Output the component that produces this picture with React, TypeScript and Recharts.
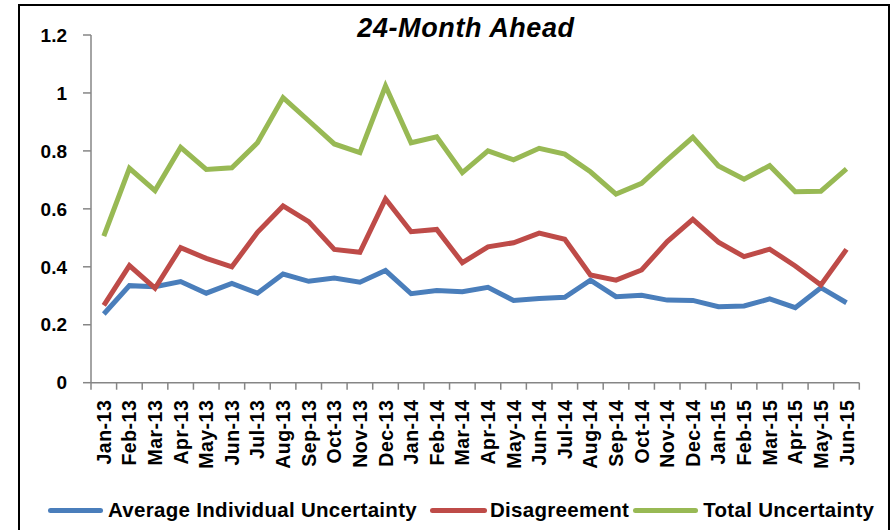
import React from 'react';
import { LineChart, Line, XAxis, YAxis, Legend } from 'recharts';

const months = [
  'Jan-13', 'Feb-13', 'Mar-13', 'Apr-13', 'May-13', 'Jun-13', 'Jul-13', 'Aug-13', 'Sep-13', 'Oct-13', 'Nov-13', 'Dec-13',
  'Jan-14', 'Feb-14', 'Mar-14', 'Apr-14', 'May-14', 'Jun-14', 'Jul-14', 'Aug-14', 'Sep-14', 'Oct-14', 'Nov-14', 'Dec-14',
  'Jan-15', 'Feb-15', 'Mar-15', 'Apr-15', 'May-15', 'Jun-15',
];

const avgIndividual = [
  0.237, 0.335, 0.331, 0.349, 0.309, 0.343, 0.309, 0.375, 0.350, 0.361, 0.347, 0.387,
  0.307, 0.318, 0.314, 0.329, 0.284, 0.291, 0.295, 0.354, 0.297, 0.302, 0.285, 0.284,
  0.262, 0.265, 0.289, 0.259, 0.328, 0.276,
];

const disagreement = [
  0.267, 0.404, 0.326, 0.466, 0.429, 0.400, 0.519, 0.610, 0.556, 0.460, 0.450, 0.634,
  0.521, 0.529, 0.414, 0.469, 0.483, 0.516, 0.495, 0.372, 0.354, 0.389, 0.487, 0.564,
  0.485, 0.435, 0.461, 0.403, 0.337, 0.460,
];

const totalUncertainty = [
  0.506, 0.740, 0.663, 0.812, 0.736, 0.742, 0.828, 0.984, 0.904, 0.824, 0.794, 1.024,
  0.828, 0.849, 0.725, 0.800, 0.769, 0.809, 0.789, 0.728, 0.651, 0.688, 0.769, 0.847,
  0.748, 0.702, 0.749, 0.659, 0.661, 0.738,
];

const yTicks = [0, 0.2, 0.4, 0.6, 0.8, 1, 1.2];

const seriesNames = ['Average Individual Uncertainty', 'Disagreement', 'Total Uncertainty'];
const seriesColors = ['#4A7EBB', '#BE4B48', '#98B954'];

const data = months.map((m, i) => ({
  month: m,
  avg: avgIndividual[i],
  dis: disagreement[i],
  tot: totalUncertainty[i],
}));

const W = 892;
const H = 530;
const MARGIN = { top: 35, right: 32.7, left: 0, bottom: 47.3 };
const Y_AXIS_W = 91;
const X_AXIS_H = 100;
const X_TICK_SIZE = 7;
const X_TICK_MARGIN = 10;
const FONT = '"Liberation Sans", Arial, sans-serif';
const AXIS_GRAY = '#868686';

const plotW = W - MARGIN.left - MARGIN.right - Y_AXIS_W;
const halfBand = plotW / months.length / 2;

const legendItemLayout = [
  { swatch: 55, gapBefore: 0, swatchGap: 5 },
  { swatch: 57, gapBefore: 13, swatchGap: 3 },
  { swatch: 65, gapBefore: 4, swatchGap: 5 },
];

const XTick = (props: any) => {
  const { x, y, payload, index } = props;
  const axisY = y - X_TICK_SIZE - X_TICK_MARGIN;
  const lastIndex = months.length - 1;
  return (
    <g>
      <line x1={x - halfBand} y1={axisY} x2={x - halfBand} y2={axisY + X_TICK_SIZE} stroke={AXIS_GRAY} strokeWidth={1.5} />
      {index === lastIndex && (
        <line x1={x + halfBand} y1={axisY} x2={x + halfBand} y2={axisY + X_TICK_SIZE} stroke={AXIS_GRAY} strokeWidth={1.5} />
      )}
      <text
        x={x}
        y={y}
        transform={`rotate(-90 ${x} ${y})`}
        textAnchor="end"
        dy="0.36em"
        fontFamily={FONT}
        fontWeight="bold"
        fontSize={19.5}
        letterSpacing={0.5}
        fill="#000"
      >
        {payload.value}
      </text>
    </g>
  );
};

const LegendContent = () => (
  <div style={{ display: 'flex', alignItems: 'center', paddingLeft: 48, fontFamily: FONT, fontWeight: 'bold', fontSize: 20.5, letterSpacing: 0.3, color: '#000' }}>
    {seriesNames.map((n, i) => (
      <div key={n} style={{ display: 'flex', alignItems: 'center', marginLeft: legendItemLayout[i].gapBefore }}>
        <div style={{ width: legendItemLayout[i].swatch, height: 5, borderRadius: 3, background: seriesColors[i], marginRight: legendItemLayout[i].swatchGap }} />
        <span style={{ whiteSpace: 'nowrap' }}>{n}</span>
      </div>
    ))}
  </div>
);

const lineStyle = { position: 'absolute' as const, background: '#000' };

export default function App() {
  return (
    <div style={{ position: 'absolute', left: 0, top: 0, width: W, height: H, overflow: 'hidden', background: '#fff' }}>
      <div
        style={{
          position: 'absolute',
          left: 0,
          width: 932,
          top: 13,
          textAlign: 'center',
          fontFamily: FONT,
          fontWeight: 'bold',
          fontStyle: 'italic',
          fontSize: 27,
          letterSpacing: 0.6,
          lineHeight: '30px',
          color: '#000',
        }}
      >
        24-Month Ahead
      </div>
      <div style={{ position: 'absolute', left: 0, top: 0 }}>
        <LineChart width={W} height={H} data={data} margin={MARGIN}>
          <XAxis
            dataKey="month"
            scale="band"
            interval={0}
            height={X_AXIS_H}
            tickLine={false}
            tickSize={X_TICK_SIZE}
            tickMargin={X_TICK_MARGIN}
            tick={<XTick />}
            axisLine={{ stroke: AXIS_GRAY, strokeWidth: 1.5 }}
          />
          <YAxis
            domain={[0, 1.2]}
            ticks={yTicks}
            width={Y_AXIS_W}
            tickSize={8}
            tickMargin={16}
            interval={0}
            axisLine={{ stroke: AXIS_GRAY, strokeWidth: 1.5 }}
            tickLine={{ stroke: AXIS_GRAY, strokeWidth: 1.5 }}
            tick={{ fontFamily: FONT, fontWeight: 'bold', fontSize: 19, fill: '#000' }}
          />
          <Legend
            layout="horizontal"
            verticalAlign="middle"
            align="center"
            content={<LegendContent />}
            wrapperStyle={{ top: 498, left: 0, width: W }}
          />
          <Line type="linear" dataKey="avg" name={seriesNames[0]} stroke={seriesColors[0]} strokeWidth={5} dot={false} isAnimationActive={false} />
          <Line type="linear" dataKey="dis" name={seriesNames[1]} stroke={seriesColors[1]} strokeWidth={5} dot={false} isAnimationActive={false} />
          <Line type="linear" dataKey="tot" name={seriesNames[2]} stroke={seriesColors[2]} strokeWidth={5} dot={false} isAnimationActive={false} />
        </LineChart>
      </div>
      <div style={{ ...lineStyle, left: 18, top: 4, width: 872, height: 2 }} />
      <div style={{ ...lineStyle, left: 18, top: 4, width: 2, height: 540 }} />
      <div style={{ ...lineStyle, left: 888, top: 4, width: 2, height: 540 }} />
    </div>
  );
}
